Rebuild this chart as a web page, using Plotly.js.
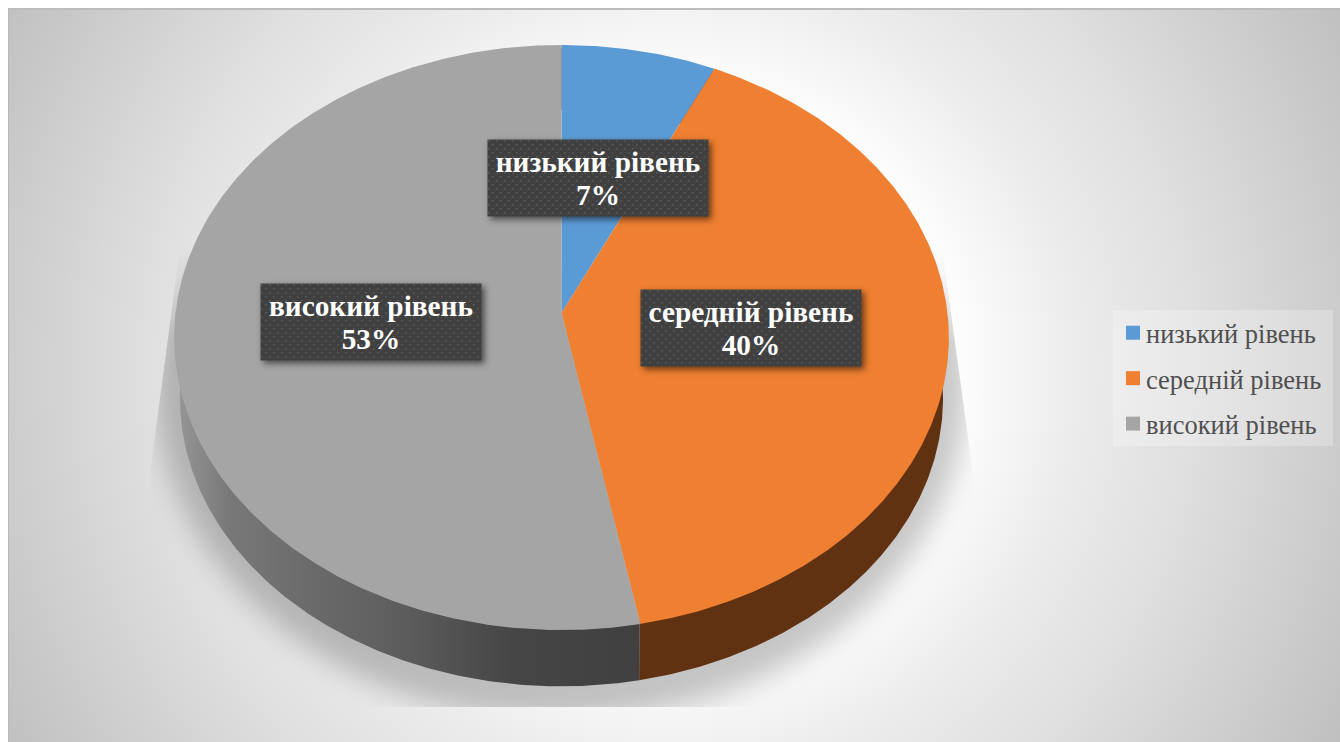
<!DOCTYPE html>
<html>
<head>
<meta charset="utf-8">
<script src="https://cdn.plot.ly/plotly-3.0.1.min.js"></script>
<style>
  html, body { margin: 0; padding: 0; background: #fff; overflow: hidden; }
  #stage { position: relative; width: 1340px; height: 742px; overflow: hidden; }
  #backdrop {
    position: absolute; left: 8px; top: 8px; right: 0; bottom: 0;
    box-sizing: border-box;
    border-left: 1px solid #b8b8b8; border-top: 2px solid #bcbcbc;
    background: radial-gradient(circle 762px at 662px 362px,
      #ffffff 0%, #ffffff 36%, #ebebeb 54%, #e0e0e0 68%, #cccccc 88%, #c0c0c0 100%);
  }
  /* Floor shadow under the disc, cut by the wedge that the lighting throws */
  #floor {
    position: absolute; inset: 0;
    clip-path: polygon(181px 240px, 941px 240px, 1005px 707px, 119px 707px);
    -webkit-mask-image: linear-gradient(to bottom, transparent 245px, #000 340px);
    mask-image: linear-gradient(to bottom, transparent 245px, #000 340px);
  }
  #floor div {
    position: absolute; left: 156px; top: 50px; width: 810px; height: 670px;
    border-radius: 50%; background: rgba(0,0,0,0.22); filter: blur(14px);
  }
  #chart { position: absolute; left: 0; top: 0; width: 1340px; height: 742px; }
</style>
</head>
<body>
<div id="stage">
  <div id="backdrop"></div>
  <div id="floor"><div></div></div>
  <div id="chart"></div>
</div>
<script>
// Survey result: share of respondents per level, in percent
const categories = ['низький рівень', 'середній рівень', 'високий рівень'];
const shares = [7, 40, 53];
const faceColors = ['#5b9bd5', '#ef7f31', '#a5a5a5'];

// Disc projection, in page pixels: a tilted circle seen in perspective
const disc = { cx: 561.5, cy: 313, a: 386, h: 290.5, k: 0.0838 };
const base = { scale: 0.985, drop: 61 };
const wallInset = 0.99; // upper wall edge sits just under the top face

function rimPoint(fraction, scale, drop) {
  const t = 2 * Math.PI * fraction;
  const w = 1 + disc.k * Math.cos(t);
  return [
    disc.cx + scale * disc.a * Math.sin(t) / w,
    disc.cy - scale * disc.h * Math.cos(t) / w + drop
  ];
}

function arc(from, to, scale, drop) {
  const n = Math.max(2, Math.ceil((to - from) * 720));
  const pts = [];
  for (let i = 0; i <= n; i++) pts.push(rimPoint(from + (to - from) * i / n, scale, drop));
  return pts;
}

const total = shares.reduce((s, v) => s + v, 0);
const bounds = shares.map((_, i) => [
  shares.slice(0, i).reduce((s, v) => s + v, 0) / total,
  shares.slice(0, i + 1).reduce((s, v) => s + v, 0) / total
]);

function polygon(points, extra) {
  return Object.assign({
    type: 'scatter', mode: 'lines', fill: 'toself', showlegend: false, hoverinfo: 'skip',
    x: points.map(p => p[0]), y: points.map(p => p[1]), line: { width: 0 }
  }, extra);
}

// Side walls, drawn first so the top faces cover their hidden parts
const wallFills = [
  { fillcolor: '#2f5a80' },
  { fillcolor: '#613212' },
  { fillgradient: {
      type: 'horizontal', start: 174, stop: 640,
      colorscale: [[0, '#989898'], [0.12, '#787878'], [0.3, '#6a6a6a'], [0.5, '#5c5c5c'], [0.72, '#464646'], [1, '#404040']]
  } }
];
const walls = bounds.map(([a, b], i) => polygon(
  arc(a, b, wallInset, 0).concat(arc(a, b, base.scale, base.drop).reverse()),
  Object.assign({ name: categories[i] + ' (стінка)' }, wallFills[i])
));

// Top faces
const faces = bounds.map(([a, b], i) => polygon(
  [[disc.cx, disc.cy]].concat(arc(a, b, 1, 0)),
  { name: categories[i], fillcolor: faceColors[i], hoverinfo: 'name' }
));

// Legend entries with square swatches
const legendEntries = categories.map((c, i) => ({
  type: 'scatter', mode: 'markers', x: [null], y: [null], name: c,
  legendgroup: c, hoverinfo: 'skip',
  marker: { symbol: 'square', size: 14, color: faceColors[i] }
}));

const labelFont = { family: 'Liberation Serif', size: 29.3, color: '#ffffff', weight: 700 };
const labelCenters = [[597.5, 177.5], [750.5, 327.5], [371, 321.5]];
const labelLineGap = 33;
const labelTextDrop = 0.5;

const layout = {
  width: 1340, height: 742,
  margin: { l: 0, r: 0, t: 0, b: 0 },
  paper_bgcolor: 'rgba(0,0,0,0)', plot_bgcolor: 'rgba(0,0,0,0)',
  xaxis: { visible: false, range: [0, 1340], fixedrange: true },
  yaxis: { visible: false, range: [742, 0], fixedrange: true },
  shapes: [{
    type: 'rect', layer: 'below', xref: 'x', yref: 'y',
    x0: 1113, x1: 1333, y0: 310, y1: 446,
    fillcolor: 'rgba(255,255,255,0.25)', line: { width: 0 }
  }],
  legend: {
    x: 1113 / 1340, y: 1 - 309 / 742, xanchor: 'left', yanchor: 'top',
    bgcolor: 'rgba(0,0,0,0)', tracegroupgap: 8, itemclick: false, itemdoubleclick: false,
    font: { family: 'Liberation Serif', size: 26.5, color: '#505050' }
  },
  annotations: categories.map((c, i) => ({
    xref: 'x', yref: 'y', x: labelCenters[i][0], y: labelCenters[i][1],
    text: c + '<br>' + shares[i] + '%', showarrow: false,
    width: 218, height: 74, align: 'center', valign: 'middle',
    bgcolor: '#404040', font: labelFont
  }))
};

Plotly.newPlot('chart', walls.concat(faces, legendEntries), layout, { displayModeBar: false, responsive: false })
  .then(() => {
    // Dotted texture and soft shadow on the data label boxes
    const svgNS = 'http://www.w3.org/2000/svg';
    const defs = document.querySelector('.main-svg defs');
    const pattern = document.createElementNS(svgNS, 'pattern');
    pattern.setAttribute('id', 'labelDots');
    pattern.setAttribute('width', 8);
    pattern.setAttribute('height', 8);
    pattern.setAttribute('patternUnits', 'userSpaceOnUse');
    [[0, 0, 8, 8, '#404040'], [1, 1, 1.6, 1.6, '#585858'], [5, 5, 1.6, 1.6, '#585858']].forEach(r => {
      const el = document.createElementNS(svgNS, 'rect');
      el.setAttribute('x', r[0]); el.setAttribute('y', r[1]);
      el.setAttribute('width', r[2]); el.setAttribute('height', r[3]);
      el.setAttribute('fill', r[4]);
      pattern.appendChild(el);
    });
    defs.appendChild(pattern);
    document.querySelectorAll('.annotation').forEach(group => {
      const box = group.querySelector('rect.bg');
      box.style.fill = 'url(#labelDots)';
      box.style.filter = 'drop-shadow(3px 3px 3px rgba(0,0,0,0.55))';
      // Tighter leading than the default, then re-centre the text in its box
      const text = group.querySelector('text');
      const lines = text.querySelectorAll('tspan.line');
      if (lines.length > 1) lines[1].setAttribute('dy', labelLineGap + 'px');
      const tb = text.getBBox();
      const bb = box.getBBox();
      const shift = (bb.y + bb.height / 2) - (tb.y + tb.height / 2) + labelTextDrop;
      text.style.transform = 'translateY(' + shift + 'px)';
    });
    // Pull the legend text closer to its swatch
    document.querySelectorAll('.legend text.legendtext').forEach(t => {
      t.setAttribute('x', parseFloat(t.getAttribute('x')) - 7);
    });
  });
</script>
</body>
</html>
